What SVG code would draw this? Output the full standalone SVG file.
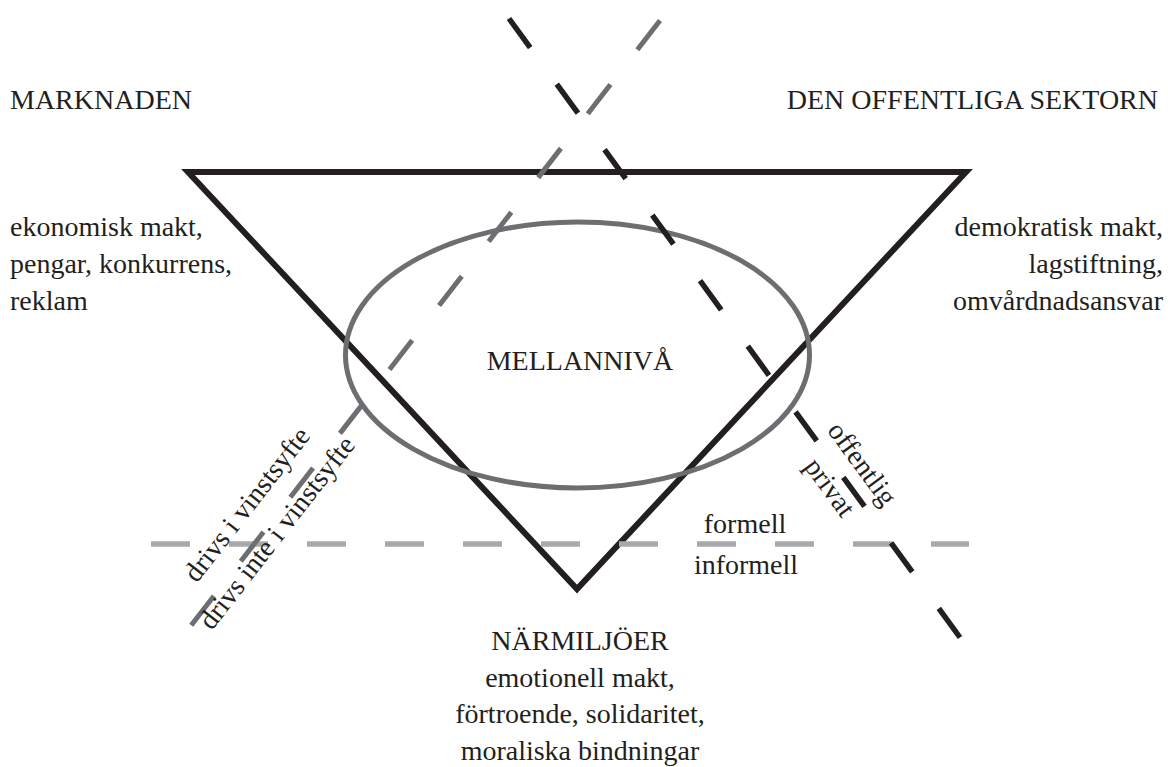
<svg xmlns="http://www.w3.org/2000/svg" width="1168" height="767" viewBox="0 0 1168 767">
<style>
text{font-family:"Liberation Serif","Times New Roman",serif;font-size:28px;fill:#231f20}
.mid{text-anchor:middle}
.end{text-anchor:end}
.tri{fill:none;stroke:#231f20;stroke-width:6;stroke-linejoin:miter}
.ell{fill:none;stroke:#6d6e71;stroke-width:5}
.d-black{fill:none;stroke:#231f20;stroke-width:5.5;stroke-dasharray:36 45.1}
.d-gray{fill:none;stroke:#6d6e71;stroke-width:5;stroke-dasharray:37 43.9}
.d-light{fill:none;stroke:#a7a9ac;stroke-width:5.5;stroke-dasharray:39 39}
</style>
<rect width="1168" height="767" fill="#ffffff"/>
<g id="triangle"><polygon class="tri" points="188,172 966,172 577,589"/></g>
<g id="mellanniva">
<ellipse class="ell" cx="577.5" cy="355" rx="232" ry="133"/>
<text class="mid" x="580" y="370">MELLANNIVÅ</text>
</g>
<g id="connectors">
<line class="d-light" x1="151" y1="544" x2="969" y2="544"/>
<line class="d-black" x1="509" y1="18.5" x2="960" y2="637.5"/>
<line class="d-gray" x1="660" y1="20.5" x2="191" y2="625.5"/>
</g>
<g id="marknaden">
<text x="10" y="109">MARKNADEN</text>
<text x="10" y="236">ekonomisk makt,</text>
<text x="10" y="273">pengar, konkurrens,</text>
<text x="10" y="310">reklam</text>
</g>
<g id="offentliga">
<text class="end" x="1158" y="109">DEN OFFENTLIGA SEKTORN</text>
<text class="end" x="1163" y="236">demokratisk makt,</text>
<text class="end" x="1163" y="273">lagstiftning,</text>
<text class="end" x="1163" y="310">omvårdnadsansvar</text>
</g>
<g id="narmiljoer">
<text class="mid" x="580" y="650">NÄRMILJÖER</text>
<text class="mid" x="580" y="687">emotionell makt,</text>
<text class="mid" x="580" y="723">förtroende, solidaritet,</text>
<text class="mid" x="580" y="760">moraliska bindningar</text>
</g>
<g id="formell-labels">
<text class="mid" x="745" y="533">formell</text>
<text class="mid" x="746" y="574">informell</text>
</g>
<g id="offentlig-labels" transform="translate(509,18.5) rotate(53.8)">
<text class="mid" x="568" y="-13">offentlig</text>
<text class="mid" x="568" y="27">privat</text>
</g>
<g id="vinst-labels" transform="translate(191,625.5) rotate(-52.2)">
<text class="mid" x="130" y="-21">drivs i vinstsyfte</text>
<text class="mid" x="126" y="20">drivs inte i vinstsyfte</text>
</g>
</svg>
